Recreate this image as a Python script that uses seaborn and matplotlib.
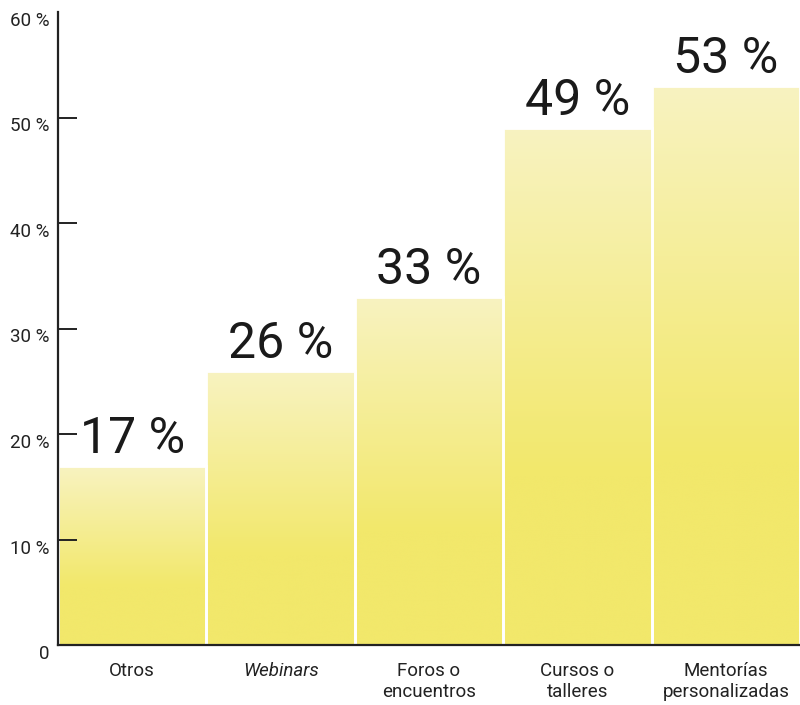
import numpy as np
import pandas as pd
import matplotlib
matplotlib.use("Agg")
import matplotlib.pyplot as plt
import matplotlib.transforms as mtransforms
from matplotlib.colors import LinearSegmentedColormap
import seaborn as sns

categories = ["Otros", "Webinars", "Foros o\nencuentros", "Cursos o\ntalleres", "Mentorías\npersonalizadas"]
values = [17, 26, 33, 49, 53]
yticks = [0, 10, 20, 30, 40, 50, 60]
ytick_labels = ["0", "10 %", "20 %", "30 %", "40 %", "50 %", "60 %"]

sns.set_theme(style="white")
plt.rcParams["font.family"] = ["Roboto", "DejaVu Sans"]

df = pd.DataFrame({"cat": categories, "val": values})

fig = plt.figure(figsize=(8.0, 7.05), dpi=100)
ax = fig.add_axes([0.0725, 0.085, 0.9275, 0.898])

sns.barplot(data=df, x="cat", y="val", width=1.0, color="#f2e86b",
            edgecolor="white", linewidth=2.0, ax=ax, zorder=1)

ax.set_xlim(-0.5, len(categories) - 0.5)
ax.set_ylim(0, 60)

# vertical gradient inside each bar: pale at the top, full yellow lower down
cmap = LinearSegmentedColormap.from_list(
    "bar_fade", [(0.0, "#f2e86b"), (0.33, "#f2e86b"), (1.0, "#f8f3c1")])
grad = np.linspace(0, 1, 256).reshape(-1, 1)
for patch in ax.patches:
    x0 = patch.get_x()
    w = patch.get_width()
    h = patch.get_height()
    im = ax.imshow(grad, cmap=cmap, aspect="auto", origin="lower",
                   extent=(x0, x0 + w, 0, h), zorder=1, interpolation="bicubic")
    im.set_clip_path(patch)
    patch.set_facecolor("none")
    patch.set_zorder(2)

ax.set_xlim(-0.5, len(categories) - 0.5)
ax.set_ylim(0, 60)

# value labels above the bars
for patch, v in zip(ax.patches, values):
    ax.annotate(f"{v} %", (patch.get_x() + patch.get_width() / 2, patch.get_height()),
                xytext=(0, 2), textcoords="offset points", ha="center", va="bottom",
                fontsize=36, color="#1a1a1a")

ax.set_xlabel("")
ax.set_ylabel("")
ax.set_yticks(yticks)
ax.set_yticklabels(ytick_labels)
ax.tick_params(axis="y", left=True, direction="in", length=13.5, width=1.4,
               color="#222222", labelsize=13.5, labelcolor="#222222", pad=6)
ax.tick_params(axis="x", bottom=False, length=0, labelsize=13.5,
               labelcolor="#222222", pad=12)
for lab in ax.get_xticklabels():
    lab.set_va("top")
    lab.set_linespacing(1.25)
    if lab.get_text() == "Webinars":
        lab.set_style("italic")

# tick labels sit slightly below their tick marks
shift = mtransforms.ScaledTranslation(0, -5 / 72, fig.dpi_scale_trans)
for lab in ax.get_yticklabels():
    lab.set_transform(lab.get_transform() + shift)

# no tick mark at the top end of the axis
ax.yaxis.get_major_ticks()[-1].tick1line.set_visible(False)
ax.set_axisbelow(False)

for side in ["top", "right"]:
    ax.spines[side].set_visible(False)
for side in ["left", "bottom"]:
    ax.spines[side].set_color("#222222")
    ax.spines[side].set_linewidth(1.6)
    ax.spines[side].set_zorder(5)
ax.grid(False)

fig.savefig("out.png", dpi=100)
